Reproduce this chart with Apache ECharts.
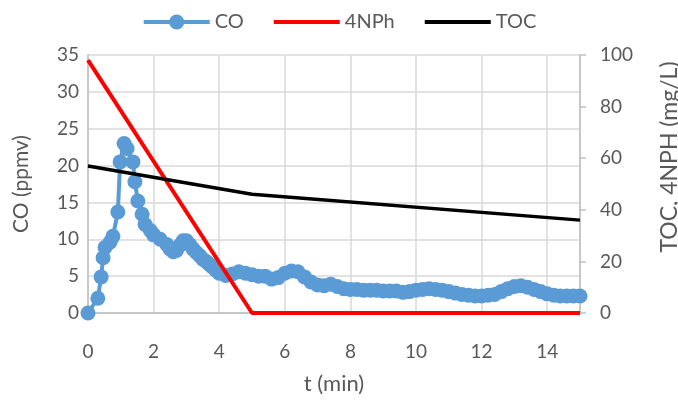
<!DOCTYPE html>
<html>
<head>
<meta charset="utf-8">
<script src="https://cdn.jsdelivr.net/npm/echarts@6/dist/echarts.min.js"></script>
<style>
  html, body { margin: 0; padding: 0; background: #fff; }
  #chart { width: 678px; height: 405px; }
</style>
</head>
<body>
<div id="chart"></div>
<script>
// CO concentration in the gas phase (time in min, ppmv)
const coTime = [0, 0.3, 0.4, 0.46, 0.52, 0.67, 0.76, 0.91, 0.98, 1.1, 1.19, 1.37, 1.43, 1.52, 1.65, 1.74,
  1.9, 2.0, 2.2, 2.4, 2.5, 2.6, 2.7, 2.8, 2.9, 3.0, 3.1, 3.2, 3.3, 3.4, 3.5, 3.6, 3.7, 3.8, 3.9, 4.0,
  4.2, 4.4, 4.6, 4.8, 5.0, 5.2, 5.4, 5.6, 5.8, 6.0, 6.2, 6.4, 6.6, 6.8, 7.0, 7.2, 7.4, 7.6, 7.8, 8.0,
  8.2, 8.4, 8.6, 8.8, 9.0, 9.2, 9.4, 9.6, 9.8, 10.0, 10.2, 10.4, 10.6, 10.8, 11.0, 11.2, 11.4, 11.6,
  11.8, 12.0, 12.2, 12.4, 12.6, 12.8, 13.0, 13.2, 13.4, 13.6, 13.8, 14.0, 14.2, 14.4, 14.6, 14.8, 15.0];
const coValues = [0, 2.0, 4.9, 7.5, 8.9, 9.6, 10.4, 13.7, 20.5, 23.0, 22.3, 20.5, 17.8, 15.2, 13.4, 12.0,
  11.2, 10.6, 10.0, 9.3, 8.7, 8.3, 8.5, 9.2, 9.8, 9.8, 9.3, 8.7, 8.2, 7.8, 7.3, 7.0, 6.6, 6.2, 5.8, 5.4,
  5.1, 5.3, 5.6, 5.4, 5.2, 5.0, 5.0, 4.6, 4.8, 5.4, 5.7, 5.6, 4.9, 4.2, 3.8, 3.7, 3.9, 3.6, 3.3, 3.2,
  3.2, 3.1, 3.1, 3.1, 3.0, 3.0, 3.0, 2.8, 2.9, 3.1, 3.2, 3.3, 3.2, 3.1, 2.9, 2.7, 2.5, 2.4,
  2.3, 2.3, 2.4, 2.5, 2.9, 3.3, 3.6, 3.7, 3.5, 3.2, 2.9, 2.6, 2.4, 2.3, 2.3, 2.3, 2.3];

// 4-nitrophenol in solution (mg/L)
const nphTime = [0, 5, 15];
const nphValues = [98, 0, 0];

// Total organic carbon (mg/L)
const tocTime = [0, 5, 15];
const tocValues = [57, 46, 36];

// Axis ticks
const xTicks = { min: 0, max: 15, interval: 2 };
const coTicks = { min: 0, max: 35, interval: 5 };
const rightTicks = { min: 0, max: 100, interval: 20 };

const pair = (xs, ys) => xs.map((x, i) => [x, ys[i]]);

const textColor = '#595959';
const font = 'Lato';
// plain horizontal bar used as legend key for the lines without markers
const barIcon = 'path://M0,0 L66,0 L66,4 L0,4 Z';

const chart = echarts.init(document.getElementById('chart'), null, { renderer: 'canvas' });
chart.setOption({
  animation: false,
  backgroundColor: '#fff',
  textStyle: { fontFamily: font },
  legend: {
    top: 7,
    left: 'center',
    itemWidth: 66,
    itemHeight: 19,
    itemGap: 30,
    lineStyle: { width: 4 },
    textStyle: { color: textColor, fontSize: 20, fontFamily: font },
    data: [
      { name: 'CO' },
      { name: '4NPh', icon: barIcon },
      { name: 'TOC', icon: barIcon }
    ]
  },
  grid: { left: 88, right: 98, top: 55, bottom: 92, containLabel: false, outerBoundsMode: 'none' },
  xAxis: {
    type: 'value',
    min: xTicks.min, max: xTicks.max, interval: xTicks.interval,
    name: 't (min)',
    nameLocation: 'middle',
    nameGap: 60,
    nameTextStyle: { color: textColor, fontSize: 22, fontFamily: font },
    axisLine: { show: true, lineStyle: { color: '#BFBFBF', width: 1.5 } },
    axisTick: { show: false },
    axisLabel: { color: textColor, fontSize: 19, margin: 29, showMaxLabel: false, fontFamily: font },
    splitLine: { show: true, lineStyle: { color: '#D9D9D9', width: 1.5 } }
  },
  yAxis: [
    {
      type: 'value',
      position: 'left',
      min: coTicks.min, max: coTicks.max, interval: coTicks.interval,
      name: 'CO (ppmv)',
      nameLocation: 'middle',
      nameGap: 56,
      nameTextStyle: { color: textColor, fontSize: 21, fontFamily: font },
      axisLine: { show: true, lineStyle: { color: '#BFBFBF', width: 1.5 } },
      axisTick: { show: false },
      axisLabel: { color: textColor, fontSize: 19, margin: 9, fontFamily: font },
      splitLine: { show: true, lineStyle: { color: '#D9D9D9', width: 1.5 } }
    },
    {
      type: 'value',
      position: 'right',
      min: rightTicks.min, max: rightTicks.max, interval: rightTicks.interval,
      name: 'TOC, 4NPH (mg/L)',
      nameLocation: 'middle',
      nameGap: 78,
      nameRotate: 90,
      nameTextStyle: { color: textColor, fontSize: 23, fontFamily: font, padding: [0, 0, 0, 54] },
      axisLine: { show: true, lineStyle: { color: '#BFBFBF', width: 1.5 } },
      axisTick: { show: true, length: 6, lineStyle: { color: '#BFBFBF', width: 1.5 } },
      axisLabel: { color: textColor, fontSize: 19, margin: 20, fontFamily: font },
      splitLine: { show: false }
    }
  ],
  series: [
    {
      name: 'CO',
      type: 'line',
      yAxisIndex: 0,
      data: pair(coTime, coValues),
      symbol: 'circle',
      symbolSize: 15,
      showSymbol: true,
      itemStyle: { color: '#5B9BD5' },
      lineStyle: { color: '#5B9BD5', width: 4 },
      z: 2
    },
    {
      name: '4NPh',
      type: 'line',
      yAxisIndex: 1,
      data: pair(nphTime, nphValues),
      symbol: 'none',
      itemStyle: { color: '#FF0000' },
      lineStyle: { color: '#FF0000', width: 4 },
      z: 3
    },
    {
      name: 'TOC',
      type: 'line',
      yAxisIndex: 1,
      data: pair(tocTime, tocValues),
      symbol: 'none',
      itemStyle: { color: '#000000' },
      lineStyle: { color: '#000000', width: 3.5 },
      z: 4
    }
  ]
});
</script>
</body>
</html>
